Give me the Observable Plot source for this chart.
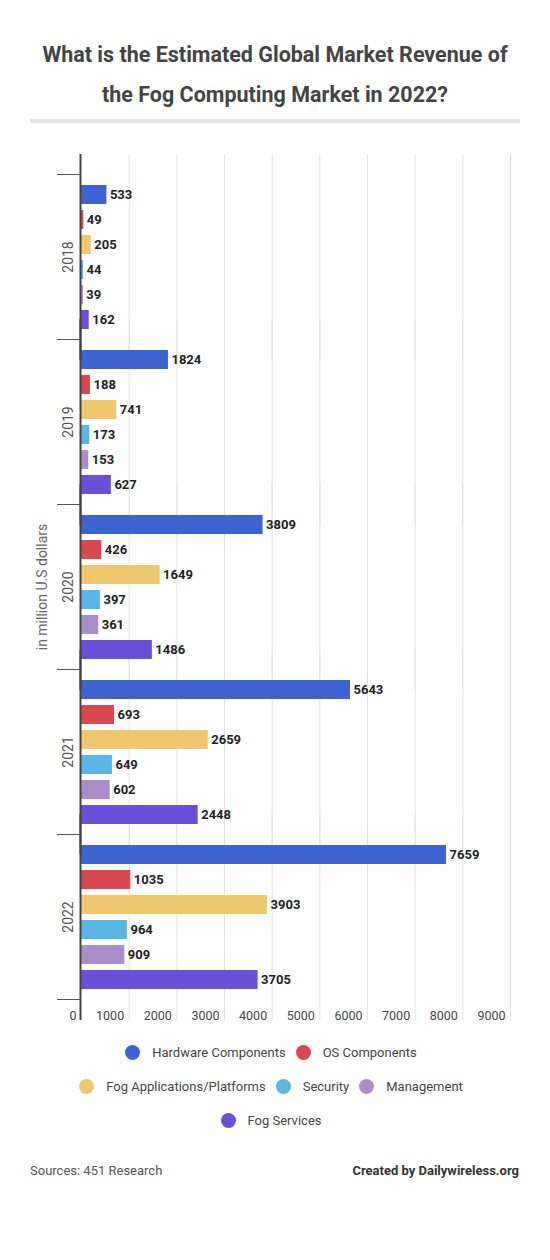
<!DOCTYPE html>
<html>
<head>
<meta charset="utf-8">
<script src="https://cdn.jsdelivr.net/npm/d3@7"></script>
<script src="https://cdn.jsdelivr.net/npm/@observablehq/plot@0.6"></script>
<style>
  body { margin: 0; width: 550px; background: #fff; font-family: Roboto, "Noto Sans", sans-serif; }
  h1 { margin: 0; padding-top: 35px; font: 700 21.5px/40px Roboto, sans-serif; color: #444; text-align: center; }
  .rule { margin: 4px 30px 0 30px; height: 4px; background: #e4e4e4; }
  #chart svg { display: block; }
  .legend { width: 430px; margin: 4px auto 0 auto; padding-right: 8px; display: flex; flex-wrap: wrap; justify-content: center; }
  .legend .item { display: flex; align-items: center; height: 34px; margin: 0 5px; font-size: 13px; color: #444; }
  .legend .sw { width: 15px; height: 15px; border-radius: 50%; margin-right: 12px; }
  .footer { display: flex; justify-content: space-between; margin: 24px 31px 0 30px; font-size: 13px; line-height: 20px; }
  .footer .src { color: #555; }
  .footer .by { color: #333; font-weight: 700; }
</style>
</head>
<body>
<h1>What is the Estimated Global Market Revenue of<br>the Fog Computing Market in 2022?</h1>
<div class="rule"></div>
<div id="chart"></div>
<div class="legend" id="legend"></div>
<div class="footer"><span class="src">Sources: 451 Research</span><span class="by">Created by Dailywireless.org</span></div>
<script>
// Fog computing market revenue, in million U.S. dollars
const years = ["2018", "2019", "2020", "2021", "2022"];
const segments = ["Hardware Components", "OS Components", "Fog Applications/Platforms", "Security", "Management", "Fog Services"];
const colors = ["#3d63d1", "#d9474f", "#efc76c", "#59b6e7", "#a98ec9", "#6a4fd8"];

const hardware    = [533, 1824, 3809, 5643, 7659];
const osComp      = [49, 188, 426, 693, 1035];
const fogApps     = [205, 741, 1649, 2659, 3903];
const security    = [44, 173, 397, 649, 964];
const management  = [39, 153, 361, 602, 909];
const fogServices = [162, 627, 1486, 2448, 3705];
const xTicks = [0, 1000, 2000, 3000, 4000, 5000, 6000, 7000, 8000, 9000];

const seriesValues = [hardware, osComp, fogApps, security, management, fogServices];
const rows = years.flatMap((year, i) =>
  segments.map((segment, j) => ({year, segment, value: seriesValues[j][i]}))
);

// rules reach a little above the first year band and below the last one
const ruleExtend = {insetTop: -20, insetBottom: -21};

const chart = Plot.plot({
  width: 550,
  height: 908,
  marginTop: 51,
  marginBottom: 32,
  marginLeft: 81,
  marginRight: 40,
  style: {fontFamily: "Roboto, sans-serif", background: "#fff"},
  x: {domain: [0, 9000]},
  y: {domain: segments, axis: null, paddingInner: 0.24, paddingOuter: 0.42},
  fy: {domain: years, paddingInner: 0, paddingOuter: 0, label: null},
  color: {domain: segments, range: colors},
  marks: [
    Plot.ruleX(xTicks.slice(1), {stroke: "#e3e3e3", strokeWidth: 1, ...ruleExtend}),
    Plot.barX(rows, {x: "value", y: "segment", fy: "year", fill: "segment"}),
    Plot.text(rows, {x: "value", y: "segment", fy: "year", text: (d) => String(d.value),
      textAnchor: "start", dx: 3, fontSize: 13, fontWeight: 700, fill: "#222"}),
    // value axis line, sitting just left of the bars' baseline
    Plot.ruleX([0], {stroke: "#444", strokeWidth: 2, dx: -1, ...ruleExtend}),
    // year labels
    Plot.axisFy({anchor: "left", tickSize: 0, tickRotate: -90, fontSize: 14, fill: "#555", label: null}),
    // group separators at the top and bottom of each year band
    Plot.axisFy({anchor: "left", tickSize: 24, tickFormat: () => "", dy: -82.5, stroke: "#555", label: null}),
    Plot.axisFy({anchor: "left", tickSize: 24, tickFormat: () => "", dy: 82.5, stroke: "#555", label: null}),
    Plot.axisX(xTicks, {anchor: "bottom", tickSize: 0, tickFormat: (d) => String(d),
      textAnchor: "end", dx: -5, dy: 3, fontSize: 12.5, fill: "#444", label: null}),
    Plot.text(["in million U.S dollars"], {frameAnchor: "left", rotate: -90, dx: -39,
      textAnchor: "middle", fontSize: 14, fill: "#666", facet: "super"})
  ]
});
document.getElementById("chart").appendChild(chart);

const legend = document.getElementById("legend");
segments.forEach((name, i) => {
  const item = document.createElement("div");
  item.className = "item";
  const sw = document.createElement("span");
  sw.className = "sw";
  sw.style.background = colors[i];
  const label = document.createElement("span");
  label.textContent = name;
  item.append(sw, label);
  legend.appendChild(item);
});
</script>
</body>
</html>
